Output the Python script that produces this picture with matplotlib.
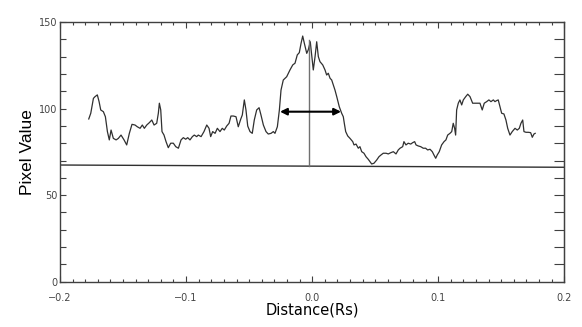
import matplotlib
matplotlib.use("Agg")
import matplotlib.pyplot as plt
from matplotlib.ticker import MultipleLocator

distance = [-0.1772, -0.1756, -0.1735, -0.1722, -0.1704, -0.1690, -0.1677, -0.1656, -0.1640, -0.1624,
            -0.1609, -0.1595, -0.1577, -0.1555, -0.1537, -0.1516, -0.1492, -0.1471, -0.1450, -0.1429,
            -0.1405, -0.1387, -0.1365, -0.1347, -0.1331, -0.1312, -0.1291, -0.1272, -0.1254, -0.1233,
            -0.1220, -0.1212, -0.1201, -0.1191, -0.1175, -0.1159, -0.1141, -0.1122, -0.1101, -0.1082,
            -0.1061, -0.1040, -0.1022, -0.1003, -0.0987, -0.0969, -0.0950, -0.0935, -0.0916, -0.0903,
            -0.0881, -0.0858, -0.0836, -0.0818, -0.0805, -0.0789, -0.0770, -0.0752, -0.0731, -0.0713,
            -0.0697, -0.0678, -0.0659, -0.0644, -0.0625, -0.0604, -0.0586, -0.0567, -0.0554, -0.0538,
            -0.0525, -0.0511, -0.0493, -0.0475, -0.0459, -0.0440, -0.0421, -0.0406, -0.0387, -0.0366,
            -0.0348, -0.0326, -0.0308, -0.0295, -0.0276, -0.0260, -0.0247, -0.0229, -0.0202, -0.0176,
            -0.0154, -0.0136, -0.0118, -0.0102, -0.0088, -0.0075, -0.0062, -0.0043, -0.0031, -0.0015,
            -0.0004, 0.0009, 0.0023, 0.0036, 0.0049, 0.0062, 0.0084, 0.0102, 0.0115, 0.0128,
            0.0142, 0.0155, 0.0168, 0.0181, 0.0195, 0.0215, 0.0234, 0.0247, 0.0255, 0.0266,
            0.0282, 0.0300, 0.0322, 0.0332, 0.0348, 0.0366, 0.0379, 0.0393, 0.0411, 0.0427,
            0.0445, 0.0459, 0.0472, 0.0490, 0.0512, 0.0530, 0.0546, 0.0564, 0.0586, 0.0604,
            0.0623, 0.0644, 0.0665, 0.0683, 0.0697, 0.0718, 0.0728, 0.0744, 0.0762, 0.0782,
            0.0797, 0.0813, 0.0824, 0.0842, 0.0861, 0.0881, 0.0900, 0.0916, 0.0935, 0.0953,
            0.0966, 0.0980, 0.0992, 0.1008, 0.1027, 0.1046, 0.1061, 0.1075, 0.1093, 0.1107,
            0.1119, 0.1130, 0.1138, 0.1146, 0.1159, 0.1172, 0.1186, 0.1199, 0.1218, 0.1234,
            0.1252, 0.1273, 0.1291, 0.1310, 0.1331, 0.1349, 0.1365, 0.1384, 0.1402, 0.1418,
            0.1437, 0.1450, 0.1463, 0.1476, 0.1490, 0.1503, 0.1521, 0.1537, 0.1551, 0.1569,
            0.1587, 0.1609, 0.1627, 0.1643, 0.1656, 0.1670, 0.1680, 0.1696, 0.1714, 0.1733,
            0.1746, 0.1759, 0.1769]

pixel_value = [94.0, 97.3, 105.9, 106.9, 107.9, 104.0, 99.2, 98.2, 95.3, 86.7,
               81.9, 87.6, 82.8, 81.9, 82.8, 84.7, 81.9, 79.0, 85.7, 90.9,
               90.5, 89.5, 88.6, 90.5, 88.6, 90.5, 91.9, 93.4, 90.5, 91.5,
               97.3, 103.1, 99.2, 86.7, 84.7, 80.9, 77.4, 80.0, 80.0, 78.0,
               77.1, 81.9, 83.2, 82.3, 83.2, 81.9, 83.8, 84.7, 83.8, 84.7,
               83.8, 86.7, 90.5, 88.6, 83.8, 86.7, 85.7, 88.6, 86.7, 88.6,
               87.6, 89.9, 91.5, 95.7, 95.7, 95.3, 89.5, 93.8, 96.3, 105.0,
               99.2, 89.9, 86.7, 85.7, 93.4, 99.2, 100.5, 96.3, 90.5, 86.7,
               85.3, 85.7, 86.7, 85.7, 89.5, 99.2, 110.7, 116.5, 118.4, 122.3,
               125.2, 126.2, 131.0, 132.3, 137.7, 141.9, 137.7, 131.9, 133.9, 138.6,
               131.0, 122.3, 130.0, 138.6, 130.0, 127.1, 125.2, 122.3, 119.4, 120.4,
               117.5, 116.5, 113.6, 110.7, 106.9, 101.1, 97.3, 95.3, 91.5, 86.7,
               84.2, 82.8, 80.9, 79.0, 79.5, 77.1, 78.0, 75.1, 74.2, 72.2,
               70.7, 69.3, 68.0, 68.4, 70.3, 72.2, 73.2, 74.2, 74.2, 73.8,
               74.5, 75.1, 73.8, 76.1, 77.1, 78.0, 80.9, 79.0, 80.0, 79.5,
               80.3, 80.9, 79.0, 78.4, 78.0, 77.1, 77.1, 76.1, 76.5, 75.1,
               73.2, 71.3, 73.2, 75.1, 79.0, 80.9, 81.9, 84.7, 85.7, 86.7,
               91.5, 88.6, 84.7, 99.2, 103.1, 105.0, 102.1, 105.0, 106.9, 108.3,
               106.9, 103.1, 103.1, 103.1, 103.1, 99.2, 103.1, 104.0, 105.0, 104.0,
               105.0, 104.0, 104.6, 105.0, 101.1, 97.3, 96.9, 93.4, 88.6, 84.7,
               86.7, 88.6, 87.6, 88.6, 91.5, 93.4, 86.7, 86.3, 86.3, 86.1,
               83.4, 85.3, 85.7]

background_x = [-0.2, 0.2]
background_y = [67.4, 66.1]

center_x = [-0.0023, -0.0023]
center_y = [66.7, 139.6]

fwhm_x = [-0.0255, 0.0229]
fwhm_y = 98.2

fig = plt.figure(figsize=(5.82, 3.27), dpi=100)
ax = fig.add_axes([0.1031, 0.1385, 0.8665, 0.7942])

ax.plot(distance, pixel_value, color="#303030", lw=0.9)
ax.plot(background_x, background_y, color="#303030", lw=1.0)
ax.plot(center_x, center_y, color="#707070", lw=1.0)
ax.annotate("", xy=(fwhm_x[1], fwhm_y), xytext=(fwhm_x[0], fwhm_y),
            arrowprops=dict(arrowstyle="<|-|>", color="black", lw=1.5,
                            mutation_scale=10, shrinkA=0, shrinkB=0))

ax.set_xlim(-0.2, 0.2)
ax.set_ylim(0, 150)
ax.xaxis.set_major_locator(MultipleLocator(0.1))
ax.xaxis.set_minor_locator(MultipleLocator(0.01))
ax.yaxis.set_major_locator(MultipleLocator(50))
ax.yaxis.set_minor_locator(MultipleLocator(10))
ax.set_xticklabels([f"{v:.1f}".replace("-", "\u2212") for v in ax.get_xticks()])

for s in ax.spines.values():
    s.set_color("#404040")
    s.set_linewidth(1.0)

ax.tick_params(axis="x", which="major", direction="in", length=4.3, width=0.8,
               top=True, bottom=True, color="#404040", labelsize=7,
               labelcolor="#444444", pad=8)
ax.tick_params(axis="x", which="minor", direction="in", length=2.2, width=0.8,
               top=True, bottom=True, color="#404040")
ax.tick_params(axis="y", which="both", direction="in", length=4.3, width=0.8,
               left=True, right=False, color="#404040", labelsize=7,
               labelcolor="#444444", pad=2)

sec = ax.secondary_yaxis("right")
sec.yaxis.set_major_locator(MultipleLocator(10))
sec.tick_params(axis="y", which="both", direction="in", length=7.5, width=0.8,
                color="#404040", labelright=False)
sec.spines["right"].set_color("#404040")

ax.set_xlabel("Distance(Rs)", fontsize=10.5, labelpad=0)
ax.set_ylabel("Pixel Value", fontsize=12.5, labelpad=3,
              family=["Liberation Sans", "DejaVu Sans"])

fig.savefig("out.png", dpi=100)
